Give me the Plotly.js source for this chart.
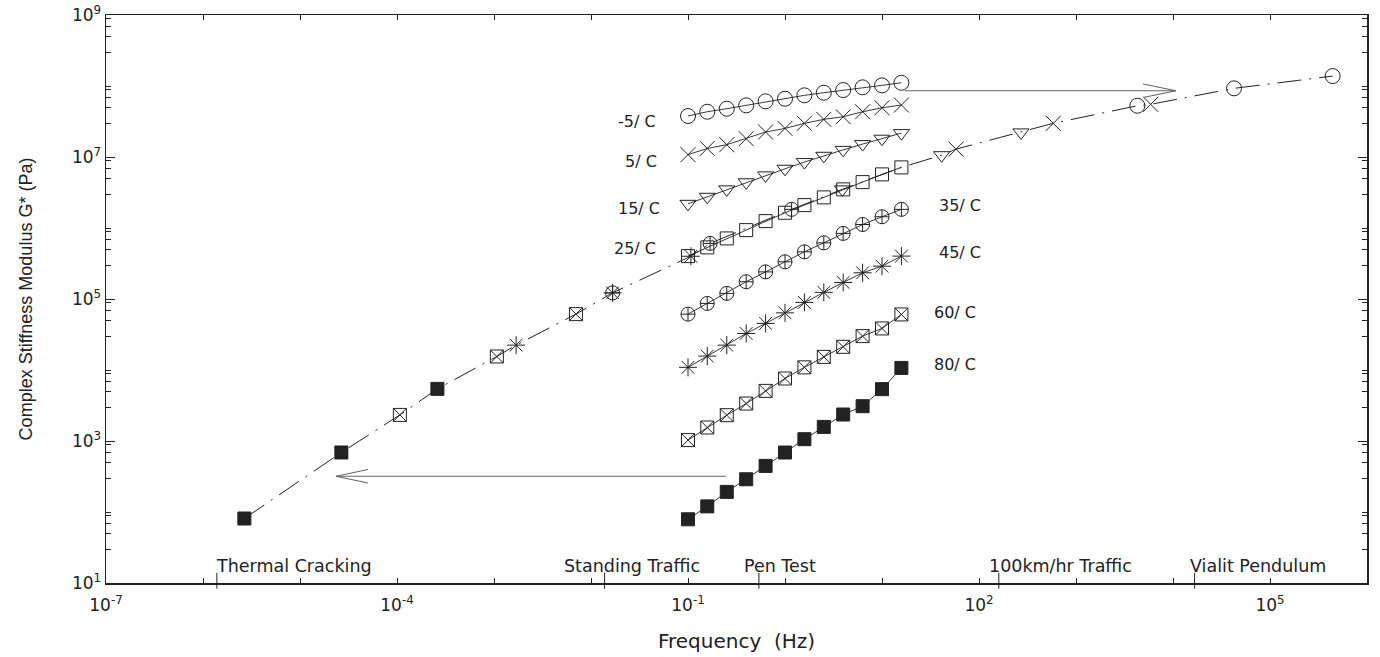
<!DOCTYPE html>
<html><head><meta charset="utf-8">
<script src="https://cdn.plot.ly/plotly-3.0.1.min.js"></script>
<style>html,body{margin:0;padding:0;background:#fff}#chart{width:1380px;height:657px}</style>
</head><body><div id="chart"></div>
<script>
// ---------- data ----------
const FREQ = [0.1, 0.158, 0.251, 0.398, 0.631, 1.0, 1.585, 2.512, 3.981, 6.31, 10.0, 15.85];
const TEMPS = ['-5/ C', '5/ C', '15/ C', '25/ C', '35/ C', '45/ C', '60/ C', '80/ C'];
const G_M5 = [3.78e7, 4.34e7, 4.79e7, 5.34e7, 6.08e7, 6.62e7, 7.39e7, 8.04e7, 8.77e7, 9.58e7, 1.02e8, 1.11e8];
const G_5  = [1.08e7, 1.32e7, 1.49e7, 1.81e7, 2.25e7, 2.53e7, 2.98e7, 3.39e7, 3.69e7, 4.34e7, 4.94e7, 5.40e7];
const G_15 = [2.19e6, 2.75e6, 3.50e6, 4.40e6, 5.51e6, 6.82e6, 8.49e6, 1.04e7, 1.26e7, 1.52e7, 1.81e7, 2.17e7];
const G_25 = [4.02e5, 5.33e5, 7.13e5, 9.34e5, 1.25e6, 1.64e6, 2.10e6, 2.70e6, 3.50e6, 4.43e6, 5.69e6, 7.14e6];
const G_35 = [6.12e4, 8.66e4, 1.20e5, 1.75e5, 2.41e5, 3.34e5, 4.62e5, 6.18e5, 8.39e5, 1.12e6, 1.44e6, 1.83e6];
const G_45 = [1.09e4, 1.57e4, 2.24e4, 3.27e4, 4.53e4, 6.38e4, 8.95e4, 1.24e5, 1.71e5, 2.34e5, 2.90e5, 4.02e5];
const G_60 = [1030, 1550, 2310, 3370, 5080, 7590, 1.09e4, 1.53e4, 2.12e4, 3.00e4, 3.85e4, 6.06e4];
const G_80 = [79, 120, 192, 289, 446, 688, 1060, 1578, 2361, 3090, 5370, 1.07e4];

// master curve (shifted points, reference 25 C)
const MASTER_FREQ = [2.67e-6, 2.67e-5, 1.07e-4, 2.61e-4, 1.07e-3, 1.69e-3, 7.0e-3, 0.0167, 0.107, 0.169, 1.17, 3.90, 15.85, 41.2, 58, 271, 583, 4290, 5890, 4.26e4, 4.43e5];
const MASTER_G    = [81, 689, 2330, 5420, 1.55e4, 2.24e4, 6.12e4, 1.22e5, 4.0e5, 6.07e5, 1.83e6, 3.5e6, 7.14e6, 1.06e7, 1.29e7, 2.22e7, 2.98e7, 5.27e7, 5.52e7, 9.27e7, 1.38e8];
const SH_M5_F = [4290, 4.26e4, 4.43e5];      const SH_M5_G = [5.27e7, 9.27e7, 1.38e8];
const SH_5_F  = [58, 583, 5890];             const SH_5_G  = [1.29e7, 2.98e7, 5.52e7];
const SH_15_F = [3.90, 41.2, 271];           const SH_15_G = [3.5e6, 1.06e7, 2.22e7];
const SH_35_F = [0.0167, 0.169, 1.17];       const SH_35_G = [1.22e5, 6.07e5, 1.83e6];
const SH_45_F = [1.69e-3, 0.0167, 0.107];    const SH_45_G = [2.24e4, 1.22e5, 4.0e5];
const SH_60_F = [1.07e-4, 1.07e-3, 7.0e-3];  const SH_60_G = [2330, 1.55e4, 6.12e4];
const SH_80_F = [2.67e-6, 2.67e-5, 2.61e-4]; const SH_80_G = [81, 689, 5420];

// shift arrows (from, to) in data units
const ARROW_LEFT_F  = [0.2466, 2.35e-5];  const ARROW_LEFT_G  = [319, 319];
const ARROW_RIGHT_F = [17.26, 1.074e4];   const ARROW_RIGHT_G = [8.57e7, 8.57e7];

// loading events on the frequency axis
const EVENT_NAMES = ['Thermal Cracking', 'Standing Traffic', 'Pen Test', '100km/hr Traffic', 'Vialit Pendulum'];
const EVENT_FREQ  = [1.39e-6, 0.0138, 0.538, 160, 1.67e4];

// tick labels
const X_TICKVALS = [1e-7, 1e-4, 1e-1, 1e2, 1e5];
const X_TICKTEXT = ['10<sup>-7</sup>', '10<sup>-4</sup>', '10<sup>-1</sup>', '10<sup>2</sup>', '10<sup>5</sup>'];
const X_MINOR = [1e-6, 1e-5, 1e-3, 1e-2, 1e0, 1e1, 1e3, 1e4, 1e6];
const Y_TICKVALS = [1e1, 1e3, 1e5, 1e7, 1e9];
const Y_TICKTEXT = ['10<sup>1</sup>', '10<sup>3</sup>', '10<sup>5</sup>', '10<sup>7</sup>', '10<sup>9</sup>'];
const Y_MINOR = [];
[1,2,3,4,5,6,7,8].forEach(function(n){ [3,5,7,9].forEach(function(m){ Y_MINOR.push(m*Math.pow(10,n)); }); if (n%2===0) Y_MINOR.push(Math.pow(10,n)); });

// ---------- styling ----------
const INK = '#222';
const FONT = 'DejaVu Sans, Liberation Sans, sans-serif';
function series(x, y, symbol, size, mode){
  return {x:x, y:y, type:'scatter', mode:mode||'lines+markers', hoverinfo:'skip',
    line:{color:INK, width:0.9},
    marker:{symbol:symbol, size:size, color:INK, line:{color:INK, width:1}}};
}
const traces = [];
traces.push({x:MASTER_FREQ, y:MASTER_G, type:'scatter', mode:'lines', hoverinfo:'skip',
  line:{color:INK, width:1, dash:'24px,8px,2px,8px'}});
traces.push(series(FREQ, G_M5, 'circle-open', 15));
traces.push(series(FREQ, G_5, 'x-thin-open', 15));
traces.push(series(FREQ, G_15, 'triangle-down-open', 14));
traces.push(series(FREQ, G_25, 'square-open', 13));
traces.push(series(FREQ, G_35, 'circle-cross-open', 14));
traces.push(series(FREQ, G_45, 'asterisk-open', 15));
traces.push(series(FREQ, G_60, 'square-x-open', 13));
traces.push(series(FREQ, G_80, 'square', 13));
traces.push(series(SH_M5_F, SH_M5_G, 'circle-open', 15, 'markers'));
traces.push(series(SH_5_F, SH_5_G, 'x-thin-open', 15, 'markers'));
traces.push(series(SH_15_F, SH_15_G, 'triangle-down-open', 14, 'markers'));
traces.push(series(SH_35_F, SH_35_G, 'circle-cross-open', 14, 'markers'));
traces.push(series(SH_45_F, SH_45_G, 'asterisk-open', 15, 'markers'));
traces.push(series(SH_60_F, SH_60_G, 'square-x-open', 13, 'markers'));
traces.push(series(SH_80_F, SH_80_G, 'square', 13, 'markers'));

function arrow(fx, gy, dxDec, dyDec){
  const tipF = fx[1], tipG = gy[1];
  const dir = fx[1] > fx[0] ? -1 : 1;
  const bf = tipF * Math.pow(10, dir*dxDec);
  return {x:[fx[0], tipF, null, bf, tipF, bf], y:[gy[0], tipG, null, tipG*Math.pow(10,dyDec), tipG, tipG*Math.pow(10,-dyDec)],
    type:'scatter', mode:'lines', hoverinfo:'skip', line:{color:'#666', width:1.2}};
}
traces.push(arrow(ARROW_LEFT_F, ARROW_LEFT_G, 0.33, 0.095));
traces.push(arrow(ARROW_RIGHT_F, ARROW_RIGHT_G, 0.34, 0.095));

// ---------- annotations ----------
const ann = [];
const leftLabels = [[-1.31, 7.507], [-1.30, 6.943], [-1.27, 6.276], [-1.31, 5.717]];
leftLabels.forEach(function(p, i){
  ann.push({x:p[0], y:p[1], xref:'x', yref:'y', text:TEMPS[i], showarrow:false, xanchor:'right', yanchor:'middle',
    font:{family:FONT, size:16, color:INK}});
});
const rightLabels = [[1.567, 6.323], [1.567, 5.660], [1.515, 4.815], [1.515, 4.082]];
rightLabels.forEach(function(p, i){
  ann.push({x:p[0], y:p[1], xref:'x', yref:'y', text:TEMPS[i+4], showarrow:false, xanchor:'left', yanchor:'middle',
    font:{family:FONT, size:16, color:INK}});
});
const eventLabelX = [-5.057, -1.582, -0.052, 2.840, 4.876];
EVENT_NAMES.forEach(function(name, i){
  ann.push({x:eventLabelX[i], y:1.235, xref:'x', yref:'y', text:name, showarrow:false, xanchor:'center', yanchor:'middle',
    font:{family:FONT, size:17.5, color:INK}});
});
const shapes = EVENT_FREQ.map(function(f){
  return {type:'line', xref:'x', yref:'paper', x0:f, x1:f, y0:-0.010, y1:0.018, line:{color:INK, width:1}};
});

const layout = {
  width:1380, height:657,
  margin:{l:106, r:13, t:15, b:74},
  paper_bgcolor:'#fff', plot_bgcolor:'#fff',
  showlegend:false,
  font:{family:FONT, color:INK, size:15},
  xaxis:{type:'log', range:[-7,6], showgrid:false, zeroline:false, showline:true, linecolor:INK, linewidth:1.5,
    mirror:'ticks', ticks:'inside', ticklen:5, tickwidth:1, tickcolor:INK, ticklabelstandoff:6,
    tickmode:'array', tickvals:X_TICKVALS, ticktext:X_TICKTEXT, tickfont:{family:FONT, size:17, color:INK},
    minor:{tickmode:'array', tickvals:X_MINOR, ticks:'inside', ticklen:5, tickwidth:1, tickcolor:INK, showgrid:false},
    title:{text:'Frequency  (Hz)', font:{family:FONT, size:20, color:INK}, standoff:20}},
  yaxis:{type:'log', range:[1,9], showgrid:false, zeroline:false, showline:true, linecolor:INK, linewidth:1.5,
    mirror:'ticks', ticks:'inside', ticklen:9, tickwidth:1, tickcolor:INK,
    tickmode:'array', tickvals:Y_TICKVALS, ticktext:Y_TICKTEXT, tickfont:{family:FONT, size:17, color:INK},
    minor:{tickmode:'array', tickvals:Y_MINOR, ticks:'inside', ticklen:5, tickwidth:1, tickcolor:INK, showgrid:false},
    title:{text:'Complex Stiffness Modulus G* (Pa)', font:{family:'Liberation Sans Narrow, Liberation Sans, sans-serif', size:18, color:INK}, standoff:34}},
  annotations:ann,
  shapes:shapes
};
Plotly.newPlot('chart', traces, layout, {displayModeBar:false, staticPlot:true});
</script>
</body></html>
